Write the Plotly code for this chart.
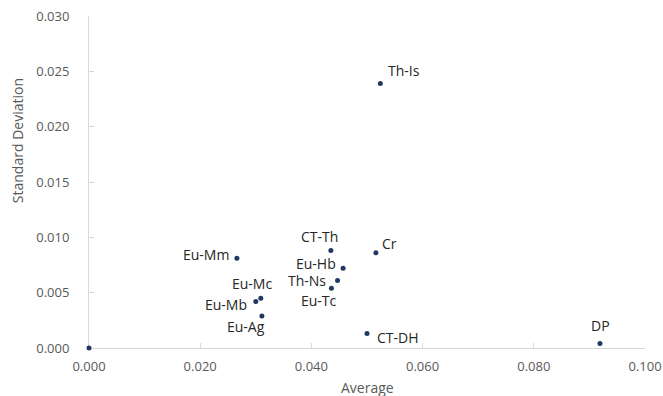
import plotly.graph_objects as go

names = ["", "Eu-Mm", "CT-Th", "Cr", "Eu-Hb", "Th-Ns", "Eu-Tc", "Eu-Mb", "Eu-Mc", "Eu-Ag", "CT-DH", "Th-Is", "DP"]
average = [0.0, 0.0266, 0.0435, 0.0516, 0.0457, 0.0447, 0.0436, 0.0300, 0.0309, 0.0311, 0.0500, 0.0524, 0.0919]
std_dev = [0.0, 0.0081, 0.0088, 0.0086, 0.0072, 0.0061, 0.0054, 0.0042, 0.0045, 0.0029, 0.0013, 0.0239, 0.0004]

x_ticks = [0.0, 0.02, 0.04, 0.06, 0.08, 0.10]
y_ticks = [0.0, 0.005, 0.010, 0.015, 0.020, 0.025, 0.030]

# label placement: (xanchor, yanchor, xshift, yshift)
placement = {
    "Eu-Mm": ("right", "middle", -6, 4),
    "CT-Th": ("center", "middle", -11, 14),
    "Cr": ("left", "middle", 4, 9),
    "Eu-Hb": ("right", "middle", -5, 5),
    "Th-Ns": ("right", "middle", -10, 0),
    "Eu-Tc": ("center", "middle", -12, -12),
    "Eu-Mb": ("right", "middle", -7, -3),
    "Eu-Mc": ("center", "middle", -9, 15),
    "Eu-Ag": ("center", "middle", -16, -11),
    "CT-DH": ("left", "middle", 8, -4),
    "Th-Is": ("left", "middle", 6, 13),
    "DP": ("center", "middle", 1, 18),
}

FONT = "Open Sans"
fig = go.Figure()
fig.add_trace(go.Scatter(
    x=average, y=std_dev, mode="markers",
    marker=dict(size=5, color="#1F3864"),
    cliponaxis=False, hoverinfo="skip", showlegend=False,
))

annotations = []
for n, xv, yv in zip(names, average, std_dev):
    if not n:
        continue
    xa, ya, dx, dy = placement[n]
    annotations.append(dict(x=xv, y=yv, xref="x", yref="y", text=n, showarrow=False,
                            xanchor=xa, yanchor=ya, xshift=dx, yshift=dy,
                            font=dict(family=FONT, size=14, color="#262626")))

annotations.append(dict(x=-0.1295, y=0.626, xref="paper", yref="paper", text="Standard Deviation",
                        textangle=-90, showarrow=False, xanchor="center", yanchor="middle",
                        font=dict(family=FONT, size=14, color="#595959")))
annotations.append(dict(x=0.5, y=-0.119, xref="paper", yref="paper", text="Average",
                        showarrow=False, xanchor="center", yanchor="middle",
                        font=dict(family=FONT, size=14, color="#595959")))

fig.update_layout(
    width=663, height=396,
    margin=dict(l=89, r=18, t=16, b=48, autoexpand=False),
    paper_bgcolor="white", plot_bgcolor="white",
    font=dict(family=FONT, size=13, color="#595959"),
    annotations=annotations,
    xaxis=dict(range=[0, 0.1], tickvals=x_ticks, tickformat=".3f", automargin=False,
               showgrid=False, zeroline=False, showline=True, linecolor="#D9D9D9", linewidth=1,
               ticks="inside", ticklen=5, tickcolor="#D9D9D9", ticklabelstandoff=6,
               layer="below traces"),
    yaxis=dict(range=[0, 0.03], tickvals=y_ticks, tickformat=".3f", automargin=False,
               showgrid=False, zeroline=False, showline=True, linecolor="#D9D9D9", linewidth=1,
               ticks="inside", ticklen=5, tickcolor="#D9D9D9", ticklabelstandoff=16,
               layer="below traces"),
)

fig.write_html("out.html", config={"displayModeBar": False},
               post_script="document.body.style.margin='0';document.body.style.overflow='hidden';")
